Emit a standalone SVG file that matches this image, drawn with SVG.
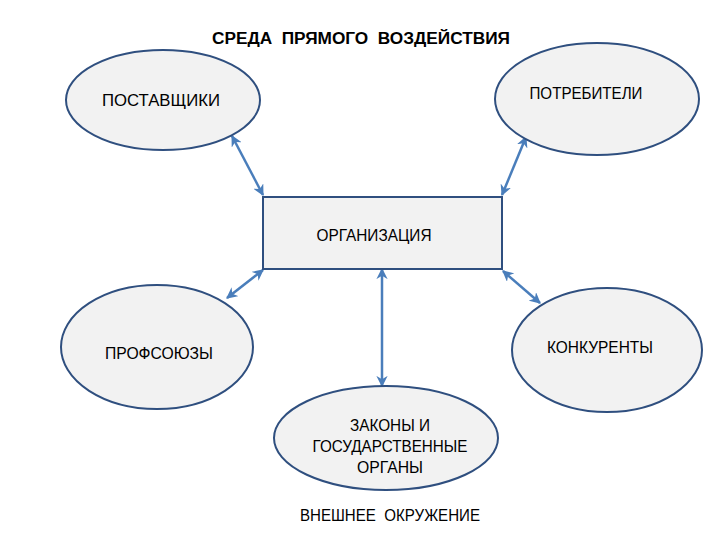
<svg xmlns="http://www.w3.org/2000/svg" width="720" height="540" viewBox="0 0 720 540">
<defs>
<marker id="ah" viewBox="0 0 10 10" refX="9" refY="5" markerWidth="4.5" markerHeight="4.5" orient="auto-start-reverse" markerUnits="strokeWidth">
<path d="M0,0 L10,5 L0,10 L3,5 z" fill="#4a7ebb"/>
</marker>
<style>
.n{fill:#f2f2f2;stroke:#2f4f7f;stroke-width:2}
.t{font-family:"Liberation Sans",Arial,sans-serif;font-size:16px;fill:#000;text-anchor:middle;dominant-baseline:central}
.c{stroke:#4a7ebb;stroke-width:2.5;fill:none;marker-start:url(#ah);marker-end:url(#ah)}
</style>
</defs>
<rect width="720" height="540" fill="#fff"/>
<text class="t" x="361" y="38" font-weight="bold" font-size="17" xml:space="preserve" textLength="298" lengthAdjust="spacingAndGlyphs">СРЕДА  ПРЯМОГО  ВОЗДЕЙСТВИЯ</text>
<g id="connectors">
<line class="c" x1="232" y1="136" x2="263" y2="195"/>
<line class="c" x1="526" y1="137" x2="502" y2="195"/>
<line class="c" x1="263" y1="270" x2="227" y2="298"/>
<line class="c" x1="503" y1="271" x2="540" y2="303"/>
<line class="c" x1="382" y1="269" x2="382" y2="386"/>
</g>
<g id="postavshiki">
<ellipse class="n" cx="163" cy="100" rx="97" ry="50"/>
<text class="t" x="161" y="100" textLength="118" lengthAdjust="spacingAndGlyphs">ПОСТАВЩИКИ</text>
</g>
<g id="potrebiteli">
<ellipse class="n" cx="597" cy="99" rx="102" ry="56"/>
<text class="t" x="586" y="93" textLength="113" lengthAdjust="spacingAndGlyphs">ПОТРЕБИТЕЛИ</text>
</g>
<g id="organizatsiya">
<rect class="n" x="263" y="197" width="239" height="72"/>
<text class="t" x="374" y="235" textLength="115" lengthAdjust="spacingAndGlyphs">ОРГАНИЗАЦИЯ</text>
</g>
<g id="profsoyuzy">
<ellipse class="n" cx="157" cy="347" rx="96" ry="62"/>
<text class="t" x="159" y="353" textLength="108" lengthAdjust="spacingAndGlyphs">ПРОФСОЮЗЫ</text>
</g>
<g id="konkurenty">
<ellipse class="n" cx="607" cy="350" rx="95" ry="62"/>
<text class="t" x="600" y="347" textLength="106" lengthAdjust="spacingAndGlyphs">КОНКУРЕНТЫ</text>
</g>
<g id="zakony">
<ellipse class="n" cx="386" cy="438" rx="112" ry="52"/>
<text class="t" x="390" y="425" textLength="80" lengthAdjust="spacingAndGlyphs">ЗАКОНЫ И</text>
<text class="t" x="390" y="446" textLength="155" lengthAdjust="spacingAndGlyphs">ГОСУДАРСТВЕННЫЕ</text>
<text class="t" x="390" y="467" textLength="66" lengthAdjust="spacingAndGlyphs">ОРГАНЫ</text>
</g>
<text class="t" x="390" y="515" xml:space="preserve" textLength="180" lengthAdjust="spacingAndGlyphs">ВНЕШНЕЕ  ОКРУЖЕНИЕ</text>
</svg>
